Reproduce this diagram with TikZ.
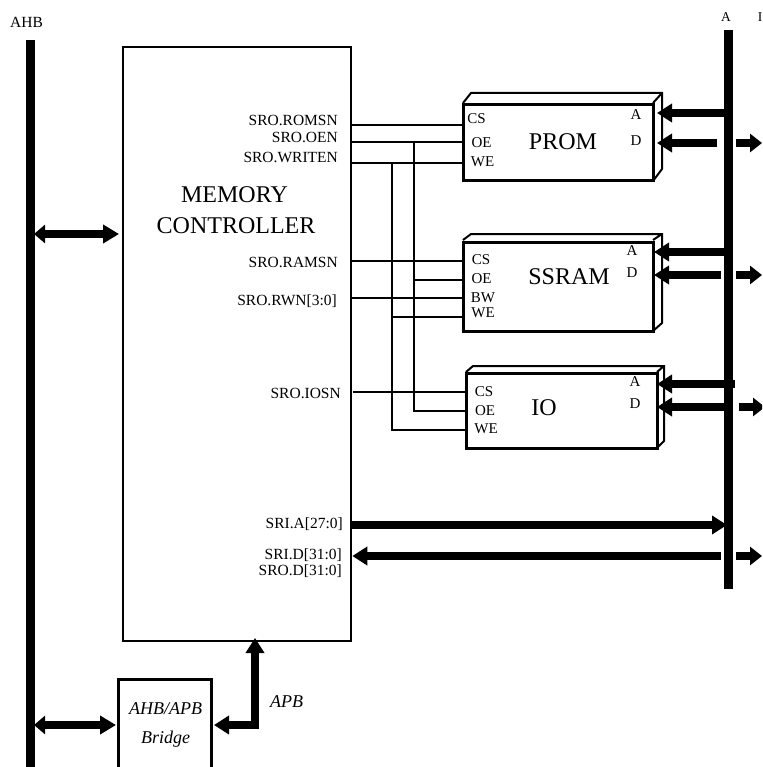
\documentclass[tikz,border=0pt]{standalone}
\usepackage{fontspec}
\setmainfont{Liberation Serif}
\usetikzlibrary{arrows.meta}
\tikzset{
  bus/.style={line width=8pt, >={Triangle[length=15pt,width=18pt]}},
  stub/.style={line width=8pt, >={Triangle[length=12pt,width=18pt]}},
  dbl/.style={line width=8pt, {Triangle[length=11pt,width=18pt]}-{Triangle[length=16pt,width=18pt]}},
  bar/.style={line width=9pt},
  wire/.style={line width=1.8pt},
  fatwire/.style={line width=2.7pt},
  back/.style={line width=2pt},
  chip/.style={draw, line width=3pt, fill=white, rectangle, inner sep=0pt},
  pin/.style={font=\fontsize{15}{16}\selectfont, inner sep=0pt},
  sig/.style={font=\fontsize{15.5}{17}\selectfont, inner sep=0pt, anchor=east},
  title/.style={font=\fontsize{24}{26}\selectfont, inner sep=0pt},
  ital/.style={font=\fontsize{18}{20}\selectfont\itshape, inner sep=0pt}
}
\begin{document}
\begin{tikzpicture}[x=1pt, y=-1pt, line join=miter]
  \clip (0,0) rectangle (762,767);
  \path[use as bounding box] (0,0) rectangle (762,767);

  % buses
  \coordinate (ahbtop) at (30.5,40);
  \coordinate (ahbbot) at (30.5,775);
  \coordinate (exttop) at (728.5,30);
  \coordinate (extbot) at (728.5,589);
  \draw[bar] (ahbtop)--(ahbbot);
  \draw[bar] (exttop)--(extbot);
  \node[font=\fontsize{15.5}{17}\selectfont] (ahblab) at (26.5,22) {AHB};
  \node[font=\fontsize{13.5}{15}\selectfont] (alab) at (726,17) {A};
  \node[font=\fontsize{13.5}{15}\selectfont] (ilab) at (760,17) {I};

  % memory controller
  \node[draw, line width=2.6pt, minimum width=228pt, minimum height=594pt, inner sep=0pt] (mem) at (237,344) {};
  \node[title] (memtitle) at (234.5,195) {MEMORY};
  \node[title] (memtitleb) at (236,226) {CONTROLLER};
  \node[sig] (romsn) at (338,120) {SRO.ROMSN};
  \node[sig] (oen) at (338,137) {SRO.OEN};
  \node[sig] (writen) at (338,157) {SRO.WRITEN};
  \node[sig] (ramsn) at (338,262) {SRO.RAMSN};
  \node[sig] (rwn) at (337,301) {SRO.RWN[3:0]};
  \node[sig] (iosn) at (341,393) {SRO.IOSN};
  \node[sig] (sria) at (343,524) {SRI.A[27:0]};
  \node[sig] (srid) at (342,555) {SRI.D[31:0]};
  \node[sig] (srod) at (342,571) {SRO.D[31:0]};

  % chips, back edges first
  \draw[back] (463,103)--(471,93)--(662,93)--(662,169)--(653,181) (653,103)--(662,93);
  \node[chip, minimum width=190pt, minimum height=76pt] (prom) at (558,143) {};
  \node[title] (promlab) at (563,142) {PROM};
  \draw[back] (463,240)--(471,234)--(662,234)--(662,323)--(653,331) (653,240)--(662,234);
  \node[chip, minimum width=190pt, minimum height=89pt] (ssram) at (558,286.5) {};
  \node[title] (ssramlab) at (569,277) {SSRAM};
  \draw[back] (466,372)--(473,366)--(664,366)--(664,441)--(657,448) (657,372)--(664,366);
  \node[chip, minimum width=191pt, minimum height=75pt] (io) at (561.5,410.5) {};
  \node[title] (iolab) at (544,408) {IO};

  % pin labels
  \node[pin] (pcs) at (476.5,119) {CS};
  \node[pin] (poe) at (481.5,143) {OE};
  \node[pin] (pwe) at (482.5,162) {WE};
  \node[pin] (pa) at (636,115) {A};
  \node[pin] (pd) at (636,141) {D};
  \node[pin] (scs) at (481,260) {CS};
  \node[pin] (soe) at (481.5,279) {OE};
  \node[pin] (sbw) at (483,298) {BW};
  \node[pin] (swe) at (483,313) {WE};
  \node[pin] (sa) at (632,251) {A};
  \node[pin] (sd) at (632,273) {D};
  \node[pin] (ics) at (484,392) {CS};
  \node[pin] (ioe) at (485,411) {OE};
  \node[pin] (iwe) at (486,429) {WE};
  \node[pin] (ia) at (635,382) {A};
  \node[pin] (id) at (635,404) {D};

  % control wires
  \coordinate (wa) at (392,163);
  \coordinate (wb) at (414,142);
  \draw[wire] (mem.east |- 0,125)--(prom.west |- 0,125);
  \draw[wire] (mem.east |- wb)--(prom.west |- wb);
  \draw[wire] (mem.east |- wa)--(prom.west |- wa);
  \draw[wire] (mem.east |- 0,261)--(ssram.west |- 0,261);
  \draw[fatwire] (mem.east |- 0,298)--(ssram.west |- 0,298);
  \draw[wire] (353,392)--(io.west |- 0,392);
  \draw[wire] (wa)--(392,430)--(io.west |- 0,430);
  \draw[wire] (wb)--(414,411)--(io.west |- 0,411);
  \draw[wire] (414,280)--(ssram.west |- 0,280);
  \draw[fatwire] (392,317)--(ssram.west |- 0,317);

  % data and address
  \draw[bus,->] (724,113)--(657,113);
  \draw[bus,->] (717,143)--(657,143);
  \draw[stub,->] (736,143)--(762,143);
  \draw[bus,->] (724,252)--(654,252);
  \draw[bus,->] (721,275)--(654,275);
  \draw[stub,->] (736,275)--(762,275);
  \draw[bus,->] (735,384)--(657,384);
  \draw[bus,->] (724,407)--(657,407);
  \draw[stub,->] (739,407)--(765,407);
  \draw[bus,->] (mem.east |- 0,525)--(727,525);
  \draw[bus,->] (721,556)--(mem.east |- 0,556);
  \draw[stub,->] (736,556)--(762,556);

  % ahb side
  \node[draw, line width=3pt, minimum width=93pt, minimum height=105pt, inner sep=0pt] (bridge) at (165,732) {};
  \node[ital] (bridgea) at (165.5,709) {AHB/APB};
  \node[ital] (bridgeb) at (165.5,739) {Bridge};
  \node[ital] (apblab) at (286.5,702) {APB};
  \draw[dbl] (34,234)--(119,234);
  \draw[dbl] (34,725)--(116,725);
  \draw[bus,<->] (214,725)--(255,725)--(255,638);
\end{tikzpicture}
\end{document}
